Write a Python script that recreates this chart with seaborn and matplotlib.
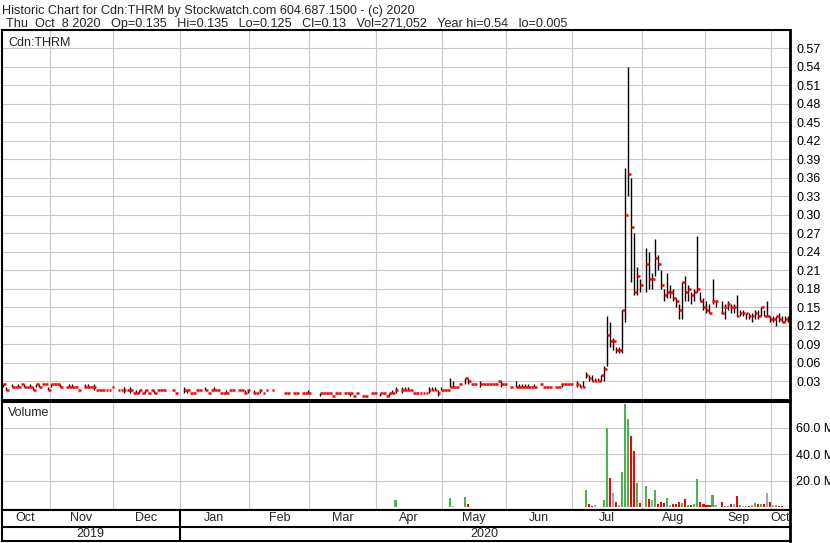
import numpy as np
import pandas as pd
import matplotlib
matplotlib.use("Agg")
import matplotlib.pyplot as plt
import seaborn as sns

# one entry per weekday, Oct 10 2019 .. Oct 8 2020 (None = no trade)
price_hi = [
    .025, .02, None, .025, .02, .025, .025, .025, .02, .025, .02, .025, .025, .025, .025, .02,
    .025, .025, .025, .025, None, .02, .025, .025, .02, .015, None, .025, .025, .02, .025, .015, .015, .015, .015, .015, .02,
    None, .015, .015, .02, .015, .02, .01, .015, .015, .01, .015, .01, .015, .015, .015, .015, .015, None, None, .015, .01, None,
    None, .02, .015, .01, .01, .015, .015, None, .02, .01, .015, .02, .015, .01, .01, .015, .015, .015, None, .015, .015, .015, .015,
    None, .015, .01, .015, .01, .015, None, .015, None, None, None, .01, .01, None, .01, .01, None, .01, .01, .015,
    None, None, None, .01, .01, .01, .01, .005, .01, .01, None, .01, .01, .01, .005, .01, None, .005, .005, None, .01, .01,
    None, .01, .01, .005, .01, .015, .02, None, .02, .02, .02, .015, .01, .01, .01, .01, .01, .02, .02, .02, .015, .02,
    .015, .015, .035, .03, .02, .025, None, .035, .035, .025, .025, None, .03, .025, .025, .025, .025, .025, .03, .03, .025,
    None, .02, None, .03, .025, .025, .025, .025, .02, .025, None, .025, .02, .02, .02, None, .02, .02, .025, .025, .025, .025,
    None, .03, .025, .03, .045, .04, .04, .035, .035, .04, .055, .135, .125, .10, .085, .085, .145, .375, .54, .36, .27, .215, .195,
    None, .245, .24, .205, .26, .235, .21, .18, .205, .185, .18, .165, .155, .19, .20, .185, .175, .18, .265, .175, .165,
    .16, .155, .195, .16, None, .16, .155, .16, .155, .155, .17, .145, .145, .14, .14, .14, .145, .145, .15, .145, .16, .135,
    .135, .135, .14, .135, .135, .135,
]
price_lo = [
    .02, .015, None, .02, .02, .02, .025, .02, .02, .02, .015, .02, .02, .025, .025, .015,
    .02, .025, .025, .02, None, .02, .02, .02, .02, .015, None, .02, .02, .02, .015, .015, .015, .015, .015, .015, .02,
    None, .015, .015, .01, .015, .01, .01, .01, .01, .01, .01, .01, .015, .01, .015, .015, .015, None, None, .015, .01, None,
    None, .01, .01, .01, .01, .015, .015, None, .015, .01, .015, .015, .015, .01, .01, .01, .015, .015, None, .015, .015, .01, .01,
    None, .01, .01, .01, .01, .015, None, .015, None, None, None, .01, .01, None, .01, .01, None, .01, .01, .01,
    None, None, None, .005, .01, .01, .01, .005, .01, .01, None, .01, .01, .005, .005, .01, None, .005, .005, None, .01, .01,
    None, .005, .01, .005, .005, .01, .01, None, .01, .015, .015, .015, .01, .01, .01, .01, .01, .01, .015, .015, .005, .015,
    .015, .015, .02, .02, .02, .025, None, .025, .025, .025, .025, None, .02, .025, .025, .025, .025, .025, .03, .02, .025,
    None, .02, None, .02, .02, .02, .02, .02, .02, .02, None, .025, .02, .02, .02, None, .02, .02, .02, .025, .025, .025,
    None, .02, .02, .02, .035, .03, .03, .03, .03, .03, .03, .055, .085, .08, .075, .075, .075, .125, .33, .19, .17, .17, .175,
    None, .175, .18, .18, .20, .21, .18, .16, .165, .165, .16, .15, .13, .13, .16, .16, .155, .16, .175, .16, .145,
    .14, .14, .155, .15, None, .14, .13, .145, .14, .14, .135, .135, .135, .13, .13, .125, .13, .13, .135, .135, .135, .125,
    .125, .12, .125, .125, .125, .125,
]
price_close = [
    .025, .015, None, .02, .02, .02, .025, .02, .02, .02, .015, .025, .02, .025, .025, .015,
    .025, .025, .025, .02, None, .02, .02, .02, .02, .015, None, .02, .02, .02, .02, .015, .015, .015, .015, .015, .02,
    None, .015, .015, .015, .015, .015, .01, .01, .015, .01, .015, .01, .015, .01, .015, .015, .015, None, None, .015, .01, None,
    None, .015, .015, .01, .01, .015, .015, None, .015, .01, .015, .015, .015, .01, .01, .01, .015, .015, None, .015, .015, .01, .015,
    None, .01, .01, .015, .01, .015, None, .015, None, None, None, .01, .01, None, .01, .01, None, .01, .01, .01,
    None, None, None, .01, .01, .01, .01, .005, .01, .01, None, .01, .01, .01, .005, .01, None, .005, .005, None, .01, .01,
    None, .01, .01, .005, .01, .01, .015, None, .015, .015, .015, .015, .01, .01, .01, .01, .01, .015, .015, .015, .01, .015,
    .015, .015, .02, .02, .02, .025, None, .035, .03, .025, .025, None, .025, .025, .025, .025, .025, .025, .03, .025, .025,
    None, .02, None, .02, .02, .02, .02, .02, .02, .02, None, .025, .02, .02, .02, None, .02, .02, .025, .025, .025, .025,
    None, .025, .02, .02, .04, .035, .03, .03, .03, .04, .05, .105, .095, .095, .08, .08, .145, .30, .365, .28, .175, .20, .185,
    None, .22, .195, .195, .23, .22, .185, .17, .175, .175, .165, .16, .145, .19, .175, .18, .17, .175, .18, .16, .15,
    .145, .14, .16, .16, None, .14, .15, .155, .15, .15, .135, .14, .14, .14, .135, .135, .14, .135, .15, .135, .135, .13,
    .13, .135, .13, .125, .13, .13,
]
# volume in millions
volume_m = [
    0.3, 0, 0, 0, 0, 0, 0, 0, 0, 0, 0, 0, 0, 0, 0, 0,
    0, 0, 0, 0, 0, 0, 0, 0, 0, 0, 0, 0, 0, 0, 0, 0, 0.3, 0, 0, 0, 0,
    0, 0, 0, 0, 0.5, 0, 0, 0, 0, 0, 0.3, 0, 0, 0, 0, 0, 0, 0, 0, 0, 0, 0,
    0, 0, 0, 0, 0, 0, 0, 0, 0, 0, 0, 0, 0, 0, 0, 0, 0, 0, 0, 0, 0, 0, 0,
    0, 0, 0, 0, 0, 0, 0, 0, 0, 0, 0, 0, 0, 0, 0, 0, 0, 0, 0, 0,
    0, 0, 0, 0, 0, 0, 0, 0, 0, 0, 0, 0, 0, 0, 0, 0, 0, 0, 0, 0, 0, 0,
    0, 0, 0, 0, 0, 0, 5.5, 0, 0.6, 0, 0, 0.5, 0, 0, 0, 0, 0, 0.6, 0, 0, 0, 0,
    0, 0, 7.0, 1.0, 0, 0, 0, 8.0, 3.0, 0, 0, 0, 0, 0, 0, 0, 0, 0, 0, 0, 0,
    0, 0, 0, 0, 0, 0, 0, 0, 0.4, 0, 0, 0, 0, 0, 0, 0, 0, 0, 0, 0, 0, 0,
    0, 0, 0, 0, 13, 3, 1, 1.5, 0.3, 0.5, 5.6, 60, 22.6, 11, 4, 2, 26.7, 78, 67, 53.6, 42.6, 18.2, 3.6,
    0, 16.4, 6.7, 6.0, 13.3, 3.0, 4.0, 3.5, 7.2, 2.0, 2.5, 3.0, 4.0, 3.5, 6.4, 2.0, 2.0, 3.0, 21.5, 4.0, 3.0,
    2.0, 2.0, 9.7, 2.0, 0, 4.5, 1.0, 1.0, 3.0, 3.0, 8.7, 2.0, 1.0, 1.0, 1.0, 1.5, 3.5, 3.0, 3.0, 2.5, 11, 4,
    2, 2, 1, 1, 0.5, 0.27,
]
price_tick_labels = ["0.03", "0.06", "0.09", "0.12", "0.15", "0.18", "0.21", "0.24", "0.27", "0.30",
                     "0.33", "0.36", "0.39", "0.42", "0.45", "0.48", "0.51", "0.54", "0.57"]
vol_ticks = [20, 40, 60]
vol_tick_labels = ["20.0 M", "40.0 M", "60.0 M"]
header_1 = "Historic Chart for Cdn:THRM by Stockwatch.com 604.687.1500 - (c) 2020"
header_2 = "Thu  Oct  8 2020   Op=0.135   Hi=0.135   Lo=0.125   Cl=0.13   Vol=271,052   Year hi=0.54   lo=0.005"

sns.set_style("white")
plt.rcParams["font.family"] = ["Liberation Sans", "DejaVu Sans"]
plt.rcParams["font.size"] = 9

dates = pd.bdate_range("2019-10-10", "2020-10-08")
n = len(dates)
pos = np.arange(n)
hi = np.array(price_hi, dtype=float)
lo = np.array(price_lo, dtype=float)
cl = np.array(price_close, dtype=float)

# volume colour from close vs previous close
close_s = pd.Series(cl)
chg = np.sign(close_s - close_s.ffill().shift(1)).fillna(0)
direction = np.where(chg > 0, "up", np.where(chg < 0, "down", "flat"))
vol_df = pd.DataFrame({"pos": pos, "vol": volume_m, "dir": direction})
vol_colors = {"up": "#4cb44c", "down": "#ff0000", "flat": "#a8a8a8"}

# month boundaries and label positions
months = dates.to_period("M")
first = np.flatnonzero(np.r_[True, months[1:] != months[:-1]])
last = np.r_[first[1:] - 1, n - 1]
month_names = [dates[i].strftime("%b") for i in first]
year_start = np.flatnonzero(dates.year == 2020)[0]

W, H = 830, 543
fig = plt.figure(figsize=(W / 100, H / 100), dpi=100)


def box(l, t, r, b):
    return [l / W, 1 - b / H, (r - l) / W, (b - t) / H]


ax_p = fig.add_axes(box(1.5, 30, 789.5, 400))
ax_v = fig.add_axes(box(1.5, 402, 789.5, 510))
ax_s = fig.add_axes(box(1.5, 510, 789.5, 541))
grid_c = "#c8c8c8"

# price panel: high-low bars with close tick
ok = ~np.isnan(cl)
ax_p.vlines(pos[ok], lo[ok], hi[ok], color="black", lw=1.0)
ax_p.hlines(cl[ok], pos[ok] - 0.05, pos[ok] + 0.9, color="red", lw=1.8)
ax_p.set_xlim(-0.5, n - 0.5)
ax_p.set_ylim(-0.0008, 0.5992)
ax_p.set_yticks([float(t) for t in price_tick_labels])
ax_p.set_yticklabels(price_tick_labels)

# volume panel
sns.barplot(data=vol_df, x="pos", y="vol", hue="dir", palette=vol_colors, dodge=False,
            width=0.7, errorbar=None, legend=False, saturation=1, linewidth=0,
            edgecolor="none", ax=ax_v)
ax_v.set_xlim(-0.5, n - 0.5)
ax_v.set_ylim(-1.9, 79.6)
ax_v.set_yticks(vol_ticks)
ax_v.set_yticklabels(vol_tick_labels)
ax_v.set_xlabel("")
ax_v.set_ylabel("")

for ax in (ax_p, ax_v):
    ax.set_xticks(first[1:] - 0.5)
    ax.set_xticklabels([])
    ax.yaxis.tick_right()
    ax.tick_params(axis="x", length=0, labelbottom=False)
    ax.tick_params(axis="y", length=0, pad=5, labelsize=9, labelcolor="black")
    ax.grid(True, color=grid_c, lw=0.8)
    ax.set_axisbelow(True)
    for side, sp in ax.spines.items():
        sp.set_visible(True)
        sp.set_color("black")
        sp.set_linewidth(1.5)
    ax.spines["right"].set_linewidth(2.0)

# month / year strip
ax_s.set_xlim(-0.5, n - 0.5)
ax_s.set_ylim(0, 1)
ax_s.set_xticks([])
ax_s.set_yticks([])
for sp in ax_s.spines.values():
    sp.set_visible(True)
    sp.set_color("black")
    sp.set_linewidth(1.5)
ax_s.spines["right"].set_linewidth(2.0)
ax_s.axhline(0.45, color="black", lw=1.5)
ax_s.axvline(year_start - 0.5, color="black", lw=1.5)
for name, a, b in zip(month_names, first, last):
    ax_s.text((a + b) / 2, 0.73, name, ha="center", va="center", fontsize=9, clip_on=True)
ax_s.text((year_start - 1) / 2, 0.22, "2019", ha="center", va="center", fontsize=9)
ax_s.text((year_start + n - 1) / 2, 0.22, "2020", ha="center", va="center", fontsize=9)

# header and panel labels
fig.text(2 / W, 1 - 14 / H, header_1, ha="left", va="baseline", fontsize=9.1)
fig.text(6 / W, 1 - 27 / H, header_2, ha="left", va="baseline", fontsize=9.1)
fig.text(8 / W, 1 - 43 / H, "Cdn:THRM", ha="left", va="center", fontsize=9)
fig.text(8 / W, 1 - 413 / H, "Volume", ha="left", va="center", fontsize=9)

fig.savefig("out.png", dpi=100)
